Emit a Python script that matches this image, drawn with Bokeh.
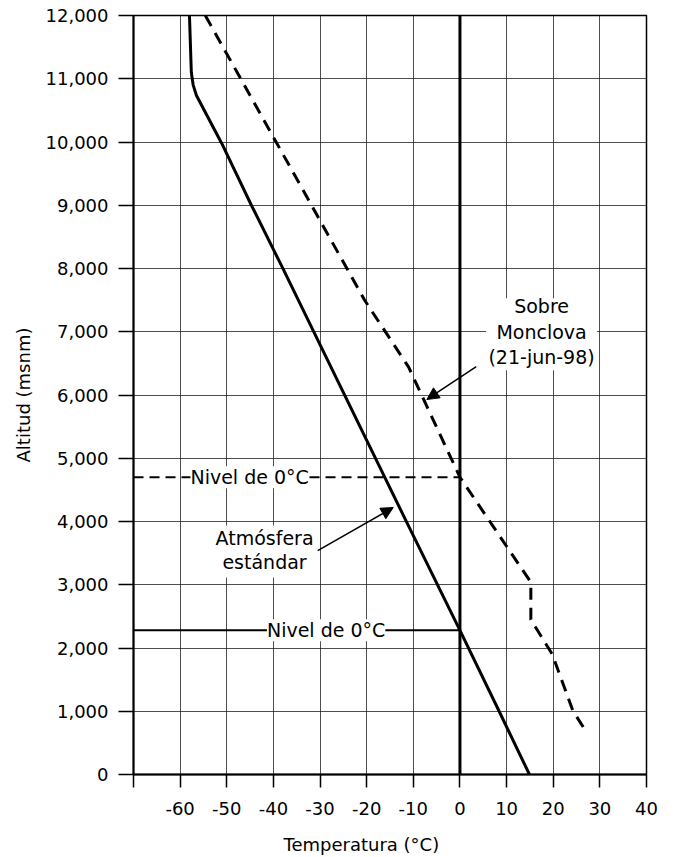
from bokeh.plotting import figure
from bokeh.models import (Range1d, FixedTicker, Span, Label, Arrow, NormalHead,
                          BoxAnnotation, NumeralTickFormatter, Title)
from bokeh.embed import file_html
from bokeh.resources import INLINE

# ---------------- data ----------------
temp_ticks = [-70, -60, -50, -40, -30, -20, -10, 0, 10, 20, 30, 40]
temp_labels = ["", "-60", "-50", "-40", "-30", "-20", "-10", "0", "10", "20", "30", "40"]
alt_ticks = [0, 1000, 2000, 3000, 4000, 5000, 6000, 7000, 8000, 9000, 10000, 11000, 12000]

# Atmósfera estándar
std_alt = [0, 1000, 2280, 3910, 6176, 8005, 9012, 9981, 10735, 10900, 11100, 12000]
std_temp = [14.9, 8.4, 0, -10.9, -25.9, -38.0, -44.8, -51.1, -56.5, -57.2, -57.6, -58.0]

# Sobre Monclova (21-jun-98)
mon_alt = [650, 1010, 1900, 2450, 3040, 4700, 6440, 7494, 12000]
mon_temp = [27.3, 24.2, 19.8, 15.2, 15.2, 0, -11.0, -20.4, -54.6]

# Niveles de 0°C
freeze_mon = 4700
freeze_std = 2280

FONT = "DejaVu Sans"
FS = "18px"
FS_ANN = "19px"

p = figure(width=666, height=855,
           x_range=Range1d(-70, 40), y_range=Range1d(0, 12000),
           output_backend="svg", toolbar_location=None,
           min_border_left=133, min_border_right=20,
           min_border_top=15, min_border_bottom=81)

p.background_fill_color = "white"
p.border_fill_color = "white"
p.outline_line_color = "black"
p.outline_line_width = 1.5

# grids
p.xgrid.ticker = FixedTicker(ticks=temp_ticks)
p.ygrid.ticker = FixedTicker(ticks=alt_ticks)
for g in (p.xgrid, p.ygrid):
    g.grid_line_color = "#222222"
    g.grid_line_width = 1
    g.grid_line_alpha = 0.8

# axes
p.xaxis.ticker = FixedTicker(ticks=temp_ticks)
p.yaxis.ticker = FixedTicker(ticks=alt_ticks)
p.xaxis.major_label_overrides = dict(zip(temp_ticks, temp_labels))
p.yaxis.formatter = NumeralTickFormatter(format="0,0")
for ax in (p.xaxis, p.yaxis):
    ax.axis_line_width = 2
    ax.axis_line_color = "black"
    ax.major_tick_line_width = 1.5
    ax.major_tick_line_color = "black"
    ax.major_tick_in = 0
    ax.minor_tick_line_color = None
    ax.major_label_text_font = FONT
    ax.major_label_text_font_size = FS
    ax.major_label_text_color = "black"
    ax.major_label_standoff = 10
    ax.axis_label_text_font = FONT
    ax.axis_label_text_font_size = FS
    ax.axis_label_text_font_style = "normal"
    ax.axis_label_text_color = "black"
p.xaxis.major_tick_out = 13
p.xaxis.major_label_standoff = 14
p.yaxis.major_tick_out = 15
p.yaxis.axis_label = "Altitud (msnm)"
p.yaxis.axis_label_standoff = 9

# spacer + x axis title (shifted left as in the original)
p.add_layout(Title(text=" ", text_font_size="1px", standoff=11), "below")
p.add_layout(Title(text="Temperatura (°C)", align="left", offset=150,
                   text_font=FONT, text_font_size=FS, text_font_style="normal",
                   text_color="black", standoff=0), "below")

# zero line
p.add_layout(Span(location=0, dimension="height", line_color="black", line_width=3))

# curves (dashed curve drawn from the top so the dash pattern starts at 12,000 m)
p.line(std_temp, std_alt, line_color="black", line_width=3)
p.line(mon_temp[::-1], mon_alt[::-1], line_color="black", line_width=3, line_dash="12 8")

# freezing levels
p.segment(x0=[temp_ticks[0]], y0=[freeze_mon], x1=[0], y1=[freeze_mon],
          line_color="black", line_width=2, line_dash="10 6")
p.segment(x0=[temp_ticks[0]], y0=[freeze_std], x1=[0], y1=[freeze_std],
          line_color="black", line_width=2)

def lab(x, y, t, bg=True):
    l = Label(x=x, y=y, text=t, text_align="center", text_baseline="middle",
              text_font=FONT, text_font_size=FS_ANN, text_color="black")
    if bg:
        l.background_fill_color = "white"
    p.add_layout(l)

lab(-45.1, freeze_mon, "Nivel de 0°C")
lab(-28.7, freeze_std, "Nivel de 0°C")

# Sobre Monclova box
p.add_layout(BoxAnnotation(left=5.6, right=29.4, bottom=6390, top=7530,
                           fill_color="white", fill_alpha=1, line_color=None))
lab(17.5, 7415, "Sobre", bg=False)
lab(17.5, 6990, "Monclova", bg=False)
lab(17.5, 6595, "(21-jun-98)", bg=False)

# Atmósfera estándar box
p.add_layout(BoxAnnotation(left=-53.6, right=-30.5, bottom=3115, top=3937,
                           fill_color="white", fill_alpha=1, line_color=None))
lab(-41.9, 3747, "Atmósfera", bg=False)
lab(-41.9, 3352, "estándar", bg=False)

# arrows
p.add_layout(Arrow(end=NormalHead(size=12, fill_color="black", line_color="black"),
                   x_start=3.5, y_start=6450, x_end=-7.1, y_end=5929,
                   line_color="black", line_width=1.5))
p.add_layout(Arrow(end=NormalHead(size=12, fill_color="black", line_color="black"),
                   x_start=-30.5, y_start=3541, x_end=-14.3, y_end=4221,
                   line_color="black", line_width=1.5))

open("out.html", "w").write(file_html(p, INLINE))
